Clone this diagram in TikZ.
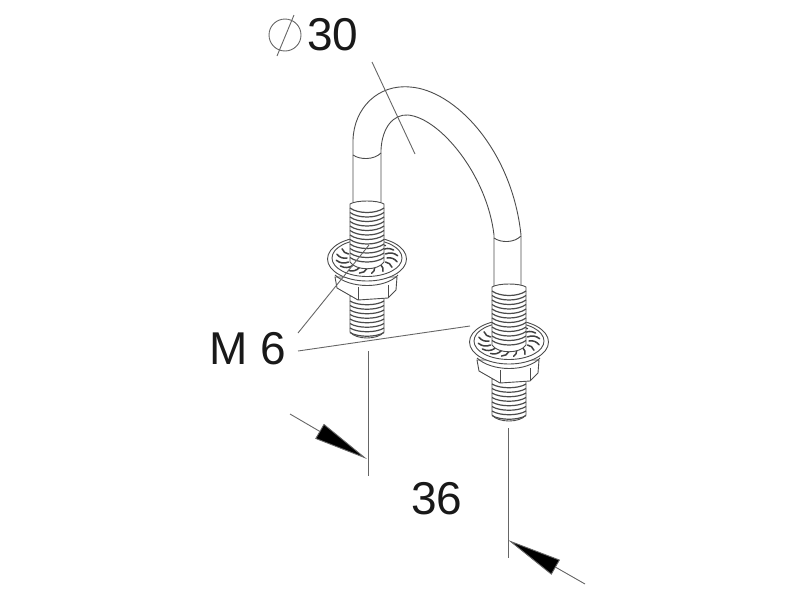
\documentclass[tikz,border=0pt]{standalone}
\usepackage{fontspec}
\setmainfont{Liberation Sans}
\usetikzlibrary{arrows.meta}
\tikzset{
 part/.style={draw=black!70,line width=0.9pt},
 thread/.style={draw=black!70,line width=1.2pt},
 tooth/.style={draw=black!75,line width=1.5pt,line cap=round},
 leader/.style={draw=black!60,line width=0.9pt},
 dimline/.style={draw=black!60,line width=0.9pt,-{Triangle[length=55pt,width=17pt,fill=black]}},
 dimtext/.style={font=\fontsize{46}{46}\selectfont,inner sep=0pt,text=black!90}
}
\begin{document}
\begin{tikzpicture}[x=1pt,y=-1pt]
 \useasboundingbox (0,0) rectangle (800,600);
 
 \node[dimtext] (d30) at (333,35) {30};
 \node[dimtext] (m6) at (248,349) {M 6};
 \node[dimtext] (w36) at (437,499) {36};
 
 \coordinate (sym) at (285,35);
 \draw[leader] (sym) circle (16);
 \draw[leader] (277,56) -- (294,15);
 
 % bent rod
 \draw[part] (353,202) -- (353,140) .. controls (354,108) and (378,84) .. (410,87)
   .. controls (455,90) and (512,150) .. (521,235) -- (521,286);
 \draw[part] (381,202) -- (381,150) .. controls (382,128) and (393,114) .. (408,115)
   .. controls (440,118) and (487,175) .. (494,235) -- (494,286);
 \draw[part] (353,155) .. controls (360,160) and (374,160) .. (381,153);
 \draw[part] (494,238) .. controls (501,243) and (514,243) .. (521,236);
 
 % both nuts, the second one shifted
 \foreach \dx/\dy in {0/0,142/83}{
 \begin{scope}[shift={(\dx,\dy)}]
  % lower thread
  \filldraw[part,fill=white] (350,296) -- (350,332) .. controls (356,340) and (378,340) .. (384,332) -- (384,296) -- cycle;
  \foreach \y in {301,305.5,...,335}
   \draw[thread] (350,\y) .. controls (358,\y+5) and (376,\y+5) .. (384,\y);
  % hexagon
  \filldraw[part,fill=white] (335,277) -- (337,288) -- (358,300) -- (388,298) -- (396,290) -- (397,277) -- cycle;
  \draw[part] (358,287) -- (358,300);
  \draw[part] (388,285) -- (388,298);
  % flange
  \filldraw[part,fill=white] (367,259) ellipse (39.5 and 22);
  \draw[part] (367,258) ellipse (35 and 18.5);
  \draw[part] (335,275) .. controls (350,289) and (385,289) .. (398,275);
  \foreach \a in {0,22.5,...,337.5}
   \draw[tooth] ({367+20*cos(\a)},{258+10.5*sin(\a)}) to[bend left=30] ({367+31*cos(\a+14)},{258+15.5*sin(\a+14)});
  % upper thread
  \filldraw[part,fill=white] (350,204) -- (350,262) .. controls (356,271) and (378,271) .. (384,262) -- (384,204) .. controls (378,200) and (356,200) .. cycle;
  \foreach \y in {208,212.5,...,261}
   \draw[thread] (350,\y) .. controls (358,\y+6) and (376,\y+6) .. (384,\y);
 \end{scope}
 }
 
 % leaders
 \draw[leader] (372,62) -- (415,154);
 \draw[leader] (298,333) -- (369,245);
 \draw[leader] (298,351) -- (470,326);
 
 % dimension
 \draw[leader] (368,351) -- (368,476);
 \draw[leader] (508,428) -- (508,558);
 \draw[dimline] (290,414) -- (367,459);
 \draw[dimline] (585,584) -- (508,540);
 
\end{tikzpicture}
\end{document}
